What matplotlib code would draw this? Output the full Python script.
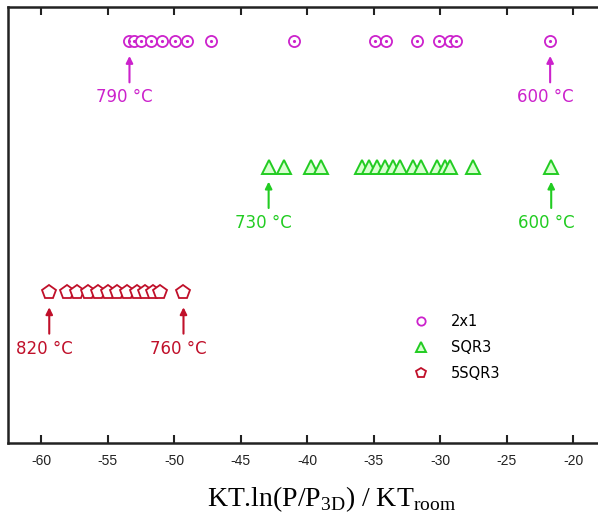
import matplotlib
matplotlib.use("Agg")
import matplotlib.pyplot as plt

# Adsorption free-energy positions for each surface phase
x_2x1 = [-53.37, -53.0, -52.47, -51.72, -50.89, -49.98, -49.08, -47.27,
         -41.02, -34.92, -34.10, -31.76, -30.10, -29.28, -28.83, -21.75]
x_sqr3 = [-42.91, -41.78, -39.74, -38.99, -35.90, -35.38, -34.77, -34.17,
          -33.57, -33.04, -32.06, -31.46, -30.26, -29.65, -29.28, -27.55, -21.67]
x_5sqr3 = [-59.40, -58.04, -57.29, -56.46, -55.71, -54.95, -54.28, -53.52,
           -52.77, -52.17, -51.57, -51.04, -49.31]

series_names = ["2x1", "SQR3", "5SQR3"]
row_levels = [3, 2, 1]

# Temperature labels: (x position, text) for each row
temps_2x1 = [(-53.37, "790 °C"), (-21.75, "600 °C")]
temps_sqr3 = [(-42.91, "730 °C"), (-21.67, "600 °C")]
temps_5sqr3 = [(-59.40, "820 °C"), (-49.31, "760 °C")]

x_ticks = [-60, -55, -50, -45, -40, -35, -30, -25, -20]

purple = "#cc22cc"
green = "#22cc22"
red = "#c0102a"

fig = plt.figure(figsize=(5.98, 5.16), dpi=100)
ax = fig.add_axes([0.0134, 0.1415, 0.99, 0.845])

# 2x1: open circles with a small centre dot
ax.plot(x_2x1, [row_levels[0]] * len(x_2x1), linestyle="none", marker="o",
        markersize=8, markerfacecolor="white", markeredgecolor=purple,
        markeredgewidth=1.3, label=series_names[0], zorder=3)
ax.plot(x_2x1, [row_levels[0]] * len(x_2x1), linestyle="none", marker=".",
        markersize=2.5, color=purple, zorder=4)

# SQR3: light-filled triangles
ax.plot(x_sqr3, [row_levels[1]] * len(x_sqr3), linestyle="none", marker="^",
        markersize=10.5, markerfacecolor="#d8ffd0", markeredgecolor=green,
        markeredgewidth=1.4, label=series_names[1], zorder=3)

# 5SQR3: open pentagons
ax.plot(x_5sqr3, [row_levels[2]] * len(x_5sqr3), linestyle="none", marker="p",
        markersize=10.5, markerfacecolor="white", markeredgecolor=red,
        markeredgewidth=1.3, label=series_names[2], zorder=3)

# Temperature arrows and labels under each row
for temps, level, col in [(temps_2x1, row_levels[0], purple),
                          (temps_sqr3, row_levels[1], green),
                          (temps_5sqr3, row_levels[2], red)]:
    for xv, txt in temps:
        ax.annotate("", xy=(xv, level - 0.12), xytext=(xv, level - 0.33),
                    arrowprops=dict(arrowstyle="-|>", color=col, lw=1.5,
                                    mutation_scale=10, shrinkA=0, shrinkB=0))
        ax.text(xv - 0.4, level - 0.45, txt, color=col, ha="center",
                va="center", fontsize=12, family="DejaVu Sans")

ax.set_xlim(-62.5, -18.0)
ax.set_ylim(-0.2, 3.27)
ax.set_xticks(x_ticks)
ax.set_xticklabels([str(t) for t in x_ticks], family="Liberation Sans",
                   fontsize=10, color="#222222")
ax.set_yticks([])
ax.tick_params(axis="x", direction="in", length=6, width=1.5, top=True,
               bottom=True, pad=8, color="#222222")

for side in ["left", "bottom", "top"]:
    ax.spines[side].set_linewidth(1.8)
    ax.spines[side].set_color("#222222")
ax.spines["right"].set_visible(False)

ax.set_xlabel("KT.ln(P/P$_{\\mathregular{3D}}$) / KT$_{\\mathregular{room}}$",
              family="Liberation Serif", fontsize=20)
ax.xaxis.set_label_coords(0.546, -0.095)

leg = ax.legend(loc="upper left", bbox_to_anchor=(0.66, 0.325), frameon=False,
                handlelength=1.2, handletextpad=1.5, labelspacing=0.75,
                prop={"family": "DejaVu Sans", "size": 10.5}, markerscale=0.7)
leg.legend_handles[0].set_markersize(6)

fig.savefig("out.png", dpi=100)
